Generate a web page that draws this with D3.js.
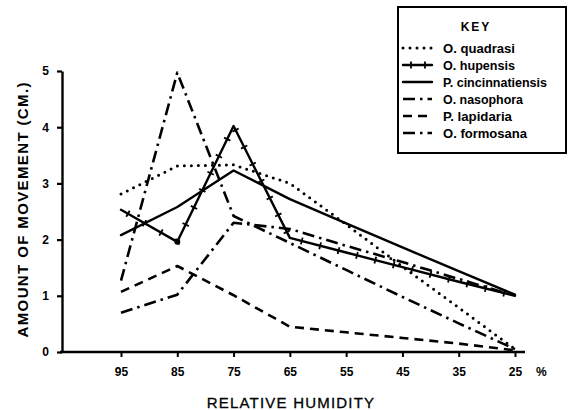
<!DOCTYPE html>
<html>
<head>
<meta charset="utf-8">
<script src="https://cdn.jsdelivr.net/npm/d3@7"></script>
<style>
  html, body { margin: 0; padding: 0; background: #fff; }
  svg { display: block; }
  text { font-family: "Liberation Sans", Arial, sans-serif; fill: #000; }
</style>
</head>
<body>
<svg id="chart" width="570" height="410"></svg>
<script>
// Relative humidity (%) at which movement was measured
const humidity = [95, 85, 75, 65, 55, 45, 35, 25];

// Amount of movement (cm) per species
const quadrasi        = [2.81, 3.31, 3.33, 3.00, 2.27, 1.52, 0.79, 0.05];
const hupensis        = [2.53, 1.96, 4.02, 2.03, 1.77, 1.51, 1.25, 1.00];
const cincinnatiensis = [2.08, 2.58, 3.23, 2.72, 2.29, 1.86, 1.44, 1.02];
const nasophora       = [1.27, 4.97, 2.42, 1.94, 1.46, 0.98, 0.51, 0.05];
const lapidaria       = [1.07, 1.53, 1.01, 0.45, 0.35, 0.25, 0.15, 0.03];
const formosana       = [0.70, 1.02, 2.30, 2.19, 1.89, 1.60, 1.30, 1.00];

const speciesNames = ["O. quadrasi", "O. hupensis", "P. cincinnatiensis",
                      "O. nasophora", "P. lapidaria", "O. formosana"];
const yTicks = [0, 1, 2, 3, 4, 5];

const seriesValues = [quadrasi, hupensis, cincinnatiensis, nasophora, lapidaria, formosana];
const styles = [
  { dash: "0,7", width: 3, cap: "round", labelWidth: 72 },
  { dash: null, width: 2.4, cap: "round", crosses: true, labelWidth: 72 },
  { dash: null, width: 2.4, cap: "round", labelWidth: 104 },
  { dash: "12,5,2.5,5", width: 2.6, cap: "butt", labelWidth: 80 },
  { dash: "9,6", width: 2.6, cap: "butt", labelWidth: 69 },
  { dash: "12,5,2.5,5", width: 2.6, cap: "butt", labelWidth: 84 }
];

const series = speciesNames.map((name, i) => ({
  name,
  style: styles[i],
  points: humidity.map((h, j) => ({ h, v: seriesValues[i][j] }))
}));

const svg = d3.select("#chart");

const x = d3.scaleLinear().domain([95, 25]).range([121, 515]);
const y = d3.scaleLinear().domain([0, 5]).range([352, 71]);

// ---- axes ----
const yAxis = d3.axisLeft(y).tickValues(yTicks).tickSize(5).tickSizeOuter(0).tickPadding(8)
  .tickFormat(d3.format("d"));
const gy = svg.append("g").attr("transform", "translate(62,0)").call(yAxis);
gy.select(".domain").attr("stroke", "#000").attr("stroke-width", 2.4);
gy.selectAll(".tick line").attr("stroke", "#000").attr("stroke-width", 2.2);
gy.selectAll(".tick text").attr("font-size", 12).attr("font-weight", "bold")
  .attr("font-family", "'Liberation Sans', Arial, sans-serif");

// horizontal baseline spans beyond the data range
svg.append("line")
  .attr("x1", 60).attr("x2", 525)
  .attr("y1", y(0)).attr("y2", y(0))
  .attr("stroke", "#000").attr("stroke-width", 2.6);

const xAxis = d3.axisBottom(x).tickValues(humidity).tickSize(5).tickSizeOuter(0).tickPadding(10)
  .tickFormat(d3.format("d"));
const gx = svg.append("g").attr("transform", `translate(0,${y(0)})`).call(xAxis);
gx.select(".domain").remove();
gx.selectAll(".tick line").attr("stroke", "#000").attr("stroke-width", 2);
gx.selectAll(".tick text").attr("font-size", 12).attr("font-weight", "bold")
  .attr("font-family", "'Liberation Sans', Arial, sans-serif");

svg.append("text")
  .attr("x", 536).attr("y", 376)
  .attr("font-size", 12).attr("font-weight", "bold")
  .text("%");

// axis titles
svg.append("text")
  .attr("x", 291).attr("y", 408)
  .attr("text-anchor", "middle")
  .attr("font-size", 15)
  .attr("letter-spacing", 1.2)
  .attr("stroke", "#000").attr("stroke-width", 0.3)
  .text("RELATIVE  HUMIDITY");

svg.append("text")
  .attr("transform", "translate(28,210) rotate(-90)")
  .attr("text-anchor", "middle")
  .attr("font-size", 15)
  .attr("font-weight", "bold")
  .attr("textLength", 255)
  .attr("lengthAdjust", "spacing")
  .text("AMOUNT OF  MOVEMENT  (CM.)");

// ---- lines ----
const line = d3.line().x(d => x(d.h)).y(d => y(d.v));

const plot = svg.append("g");
series.forEach(s => {
  const path = plot.append("path")
    .datum(s.points)
    .attr("d", line)
    .attr("fill", "none")
    .attr("stroke", "#000")
    .attr("stroke-width", s.style.width)
    .attr("stroke-linecap", s.style.cap)
    .attr("stroke-linejoin", "round")
    .attr("stroke-dasharray", s.style.dash);

  if (s.style.crosses) {
    // short cross bars spaced along the line
    const node = path.node();
    const total = node.getTotalLength();
    const step = 19, half = 3.5;
    const bars = [];
    for (let l = 8; l < total - 4; l += step) {
      const p0 = node.getPointAtLength(Math.max(0, l - 1));
      const p1 = node.getPointAtLength(Math.min(total, l + 1));
      const p = node.getPointAtLength(l);
      const dx = p1.x - p0.x, dy = p1.y - p0.y;
      const len = Math.hypot(dx, dy) || 1;
      const nx = -dy / len, ny = dx / len;
      bars.push([p.x - nx * half, p.y - ny * half, p.x + nx * half, p.y + ny * half]);
    }
    plot.selectAll(null).data(bars).enter().append("line")
      .attr("x1", d => d[0]).attr("y1", d => d[1])
      .attr("x2", d => d[2]).attr("y2", d => d[3])
      .attr("stroke", "#000").attr("stroke-width", 1.8);
    // filled vertex at the 85% low point
    plot.append("circle")
      .attr("cx", x(s.points[1].h)).attr("cy", y(s.points[1].v))
      .attr("r", 3).attr("fill", "#000");
  }
});

// ---- key ----
const key = svg.append("g");
key.append("rect")
  .attr("x", 398).attr("y", 7).attr("width", 168).attr("height", 146)
  .attr("fill", "#fff").attr("stroke", "#000").attr("stroke-width", 2);
key.append("text")
  .attr("x", 476).attr("y", 31)
  .attr("text-anchor", "middle")
  .attr("font-size", 12).attr("font-weight", "bold")
  .attr("letter-spacing", 2)
  .text("KEY");

series.forEach((s, i) => {
  const cy = 48 + i * 17;
  key.append("line")
    .attr("x1", 403).attr("x2", 432)
    .attr("y1", cy).attr("y2", cy)
    .attr("stroke", "#000")
    .attr("stroke-width", s.style.width)
    .attr("stroke-linecap", s.style.cap)
    .attr("stroke-dasharray", s.style.dash);
  if (s.style.crosses) {
    [411, 425].forEach(cx => key.append("line")
      .attr("x1", cx).attr("x2", cx).attr("y1", cy - 3.5).attr("y2", cy + 3.5)
      .attr("stroke", "#000").attr("stroke-width", 1.8));
  }
  key.append("text")
    .attr("x", 443).attr("y", cy + 4.5)
    .attr("font-size", 12).attr("font-weight", "bold")
    .attr("textLength", s.style.labelWidth)
    .attr("lengthAdjust", "spacingAndGlyphs")
    .text(s.name);
});
</script>
</body>
</html>
